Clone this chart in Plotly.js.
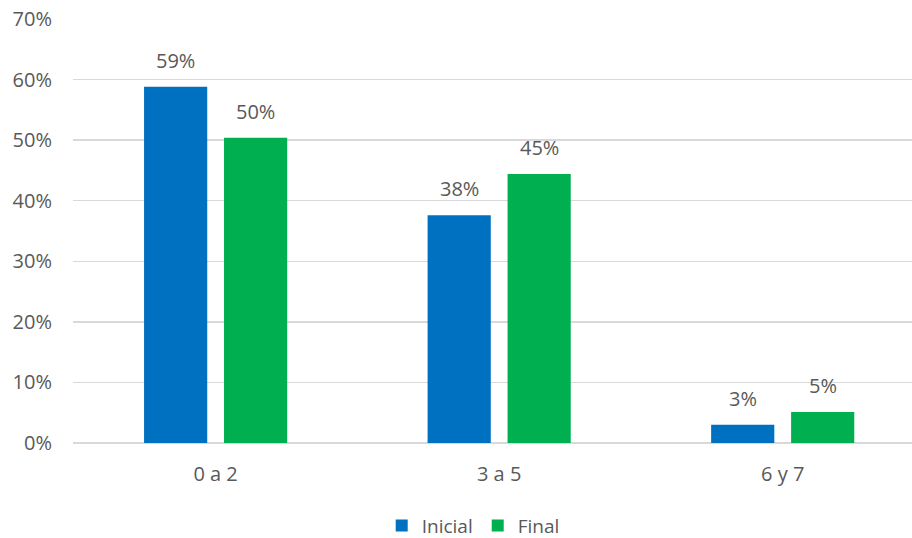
<!DOCTYPE html>
<html>
<head>
<meta charset="utf-8">
<script src="https://cdn.plot.ly/plotly-3.0.1.min.js"></script>
<style>html,body{margin:0;padding:0;background:#fff;}#chart{width:912px;height:538px;}</style>
</head>
<body>
<div id="chart"></div>
<script>
const categories = ["0 a 2", "3 a 5", "6 y 7"];
const inicialValues = [0.588, 0.376, 0.030];
const finalValues = [0.504, 0.444, 0.051];
const inicialLabels = ["59%", "38%", "3%"];
const finalLabels = ["50%", "45%", "5%"];
const yTickVals = [0, 0.1, 0.2, 0.3, 0.4, 0.5, 0.6, 0.7];
const yTickText = ["0%", "10%", "20%", "30%", "40%", "50%", "60%", "70%"];

const family = "Open Sans, Segoe UI, sans-serif";
const font = {family: family, size: 20, color: "#595959"};
const labelFont = {family: family, size: 20, color: "#595959"};
const legendFont = {family: family, size: 19, color: "#595959"};

const traces = [
  {type: "bar", name: "Inicial", x: categories, y: inicialValues,
   marker: {color: "#0070C0"}, hoverinfo: "none"},
  {type: "bar", name: "Final", x: categories, y: finalValues,
   marker: {color: "#00B050"}, hoverinfo: "none"}
];

function labelAnnotations(values, labels, xshift) {
  return categories.map((c, i) => ({
    x: c, y: values[i], text: labels[i], xref: "x", yref: "y",
    showarrow: false, xanchor: "center", yanchor: "bottom",
    xshift: xshift, yshift: 11, font: labelFont
  }));
}

const layout = {
  width: 912, height: 538,
  margin: {l: 73, r: 0, t: 19, b: 95, autoexpand: false},
  paper_bgcolor: "#fff", plot_bgcolor: "#fff",
  font: font,
  barmode: "group", bargap: 0.436, bargroupgap: 0.21,
  showlegend: true,
  legend: {orientation: "h", x: 0.477, xanchor: "center", y: -0.195, yanchor: "middle", font: legendFont},
  annotations: labelAnnotations(inicialValues, inicialLabels, -40).concat(labelAnnotations(finalValues, finalLabels, 40)),
  xaxis: {type: "category", range: [-0.503, 2.456], showgrid: false, showline: false, ticks: "", tickfont: font, zeroline: false, ticklabelstandoff: 17},
  yaxis: {range: [0, 0.7], tickvals: yTickVals, ticktext: yTickText, showgrid: true, gridcolor: "#d9d9d9",
          gridwidth: 1.3, zeroline: true, zerolinecolor: "#d9d9d9", zerolinewidth: 1.3, showline: false, ticks: "", tickfont: font, ticklabelstandoff: 20}
};

Plotly.newPlot("chart", traces, layout, {displayModeBar: false, staticPlot: true});
</script>
</body>
</html>
